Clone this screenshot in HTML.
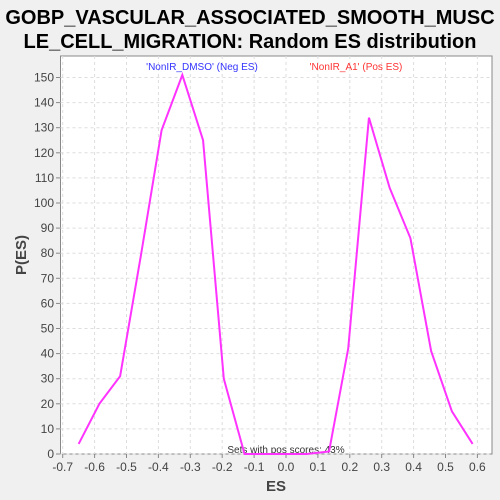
<!DOCTYPE html>
<html><head><meta charset="utf-8"><style>
body{margin:0;background:#f0f0f0;}
svg{display:block;font-family:"Liberation Sans",sans-serif;}
</style></head><body>
<svg id="c" width="500" height="500">
<rect width="500" height="500" fill="#f0f0f0"/>
<text x="250" y="24" font-size="20" font-weight="bold" text-anchor="middle" fill="#000">GOBP_VASCULAR_ASSOCIATED_SMOOTH_MUSC</text>
<text x="250" y="48" font-size="20" font-weight="bold" text-anchor="middle" fill="#000">LE_CELL_MIGRATION: Random ES distribution</text>
<rect x="60.5" y="56" width="431.5" height="398" fill="#fff" stroke="#888"/>
<g id="grid"></g><g id="axes"></g>
<text x="202" y="70" font-size="10" fill="#3333ff" text-anchor="middle">'NonIR_DMSO' (Neg ES)</text>
<text x="356" y="70" font-size="10" fill="#ff3333" text-anchor="middle">'NonIR_A1' (Pos ES)</text>
<text x="286" y="453" font-size="10" fill="#333" text-anchor="middle">Sets with pos scores: 43%</text>
<text x="276" y="491" font-size="15" font-weight="bold" fill="#444" text-anchor="middle">ES</text>
<text x="26" y="255" font-size="15" font-weight="bold" fill="#444" text-anchor="middle" transform="rotate(-90 26 255)">P(ES)</text>
<polyline id="line" fill="none" stroke="#ff33ff" stroke-width="2"/>
</svg>
<script>
const esValues=[-0.65,-0.585,-0.52,-0.455,-0.39,-0.325,-0.26,-0.195,-0.13,-0.065,0,0.065,0.135,0.195,0.26,0.325,0.39,0.455,0.52,0.585];
const pValues=[4,20,31,79,129,151,125,30,0,0,0,0,1,42,134,106,86,41,17,4];
const xTicks=[-0.7,-0.6,-0.5,-0.4,-0.3,-0.2,-0.1,0.0,0.1,0.2,0.3,0.4,0.5,0.6];
const yTicks=[0,10,20,30,40,50,60,70,80,90,100,110,120,130,140,150];
const X=v=>286+(v*319);
const Y=v=>454-v*2.51;
const ns="http://www.w3.org/2000/svg";
const grid=document.getElementById('grid'),axes=document.getElementById('axes');
function mk(t,a,p){const e=document.createElementNS(ns,t);for(const k in a)e.setAttribute(k,a[k]);p.appendChild(e);return e;}
xTicks.forEach(t=>{
 const g=mk('line',{x1:X(t),x2:X(t),y1:56,y2:454,stroke:'#ddd','stroke-dasharray':'3,3'},grid);
 
 
 const tk=mk('line',{x1:X(t),x2:X(t),y1:454,y2:458,stroke:'#888'},axes);
 
 
 const l=mk('text',{x:X(t),y:471,'font-size':12,fill:'#444','text-anchor':'middle'},axes);
 l.textContent=t.toFixed(1);
 
 
});
yTicks.forEach(t=>{
 const g=mk('line',{x1:60.5,x2:492,y1:Y(t),y2:Y(t),stroke:'#ddd','stroke-dasharray':'3,3'},grid);
 
 
 const tk=mk('line',{x1:56,x2:60.5,y1:Y(t),y2:Y(t),stroke:'#888'},axes);
 
 
 const l=mk('text',{x:54,y:Y(t)+4,'font-size':12,fill:'#444','text-anchor':'end'},axes);
 l.textContent=t;
 
 
});
document.getElementById('line').setAttribute('points',esValues.map((v,i)=>X(v)+','+Y(pValues[i])).join(' '));
</script>
</body></html>
